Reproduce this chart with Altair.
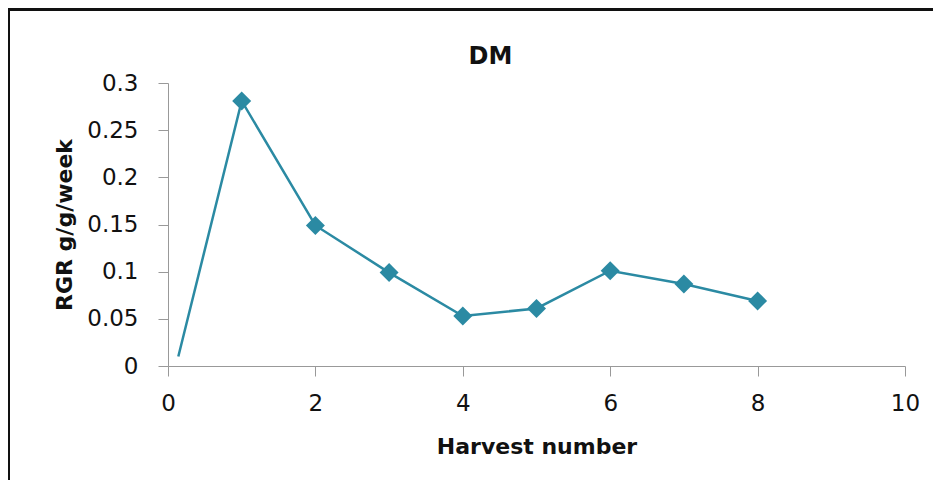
import altair as alt
import pandas as pd

harvest = [0.14, 1, 2, 3, 4, 5, 6, 7, 8]
rgr = [0.01, 0.281, 0.149, 0.099, 0.053, 0.061, 0.101, 0.087, 0.069]
has_marker = [False, True, True, True, True, True, True, True, True]

x_ticks = [0, 2, 4, 6, 8, 10]
y_ticks = [0, 0.05, 0.1, 0.15, 0.2, 0.25, 0.3]

df = pd.DataFrame({"harvest": harvest, "rgr": rgr, "marker": has_marker})

COLOR = "#2B8AA3"
FONT = "DejaVu Sans"
W, H = 737, 283
PAD_L, PAD_T, PAD_R, PAD_B = 160, 75, 28, 114

x_enc = alt.X(
    "harvest:Q",
    scale=alt.Scale(domain=[0, 10], nice=False, zero=False),
    axis=alt.Axis(
        values=x_ticks, title="Harvest number", grid=False, format="d",
        tickSize=10, labelPadding=16, titlePadding=21,
        labelFontSize=23, titleFontSize=22, labelFont=FONT, titleFont=FONT,
        titleFontWeight="bold", labelColor="#111", titleColor="#111",
        domainColor="#999", tickColor="#999", labelFlush=False,
    ),
)
y_enc = alt.Y(
    "rgr:Q",
    scale=alt.Scale(domain=[0, 0.3], nice=False),
    axis=alt.Axis(
        values=y_ticks, title="RGR  g/g/week", grid=False,
        tickSize=10, labelPadding=20, titlePadding=10,
        labelFontSize=23, titleFontSize=22, labelFont=FONT, titleFont=FONT,
        titleFontWeight="bold", labelColor="#111", titleColor="#111",
        domainColor="#999", tickColor="#999", labelFlush=False,
        labelExpr="datum.value == 0 ? '0' : format(datum.value, '.2~f')",
    ),
)

base = alt.Chart(df)
line = base.mark_line(color=COLOR, strokeWidth=2.5).encode(x=x_enc, y=y_enc)
points = base.transform_filter("datum.marker").mark_point(
    shape="diamond", filled=True, size=360, color=COLOR, opacity=1
).encode(x="harvest:Q", y="rgr:Q")

frame_top = alt.Chart(df).mark_rule(color="#111", strokeWidth=2.5, clip=False).encode(
    x=alt.value(-PAD_L), x2=alt.value(W + PAD_R), y=alt.value(-PAD_T + 1.5)
)
frame_left = alt.Chart(df).mark_rule(color="#111", strokeWidth=2.5, clip=False).encode(
    x=alt.value(-PAD_L + 0.5), y=alt.value(-PAD_T + 0.5), y2=alt.value(H + PAD_B)
)

chart = (
    alt.layer(line, points, frame_top, frame_left)
    .properties(
        width=W, height=H,
        title=alt.TitleParams("DM", fontSize=24, font=FONT, fontWeight="bold",
                              color="#111", anchor="middle",
                              dx=-46, offset=-62),
        autosize=alt.AutoSizeParams(type="none"),
        padding={"left": PAD_L, "top": PAD_T, "right": PAD_R, "bottom": PAD_B},
    )
    .configure_view(stroke=None)
)

chart.save("out.html", embed_options={"renderer": "svg", "actions": False})
